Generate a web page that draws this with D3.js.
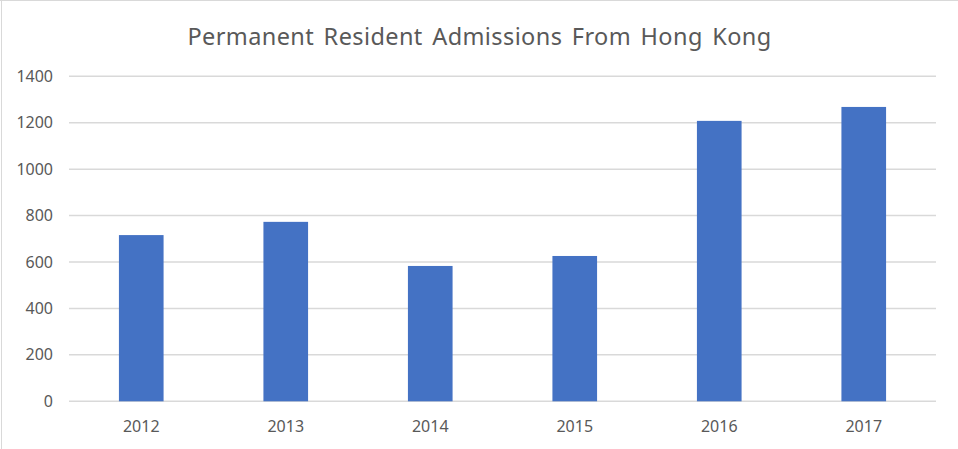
<!DOCTYPE html>
<html>
<head>
<meta charset="utf-8">
<script src="https://cdn.jsdelivr.net/npm/d3@7"></script>
<style>
  body { margin: 0; background: #fff; }
  svg { display: block; font-family: "Noto Sans", "Open Sans", sans-serif; }
</style>
</head>
<body>
<div id="chart"></div>
<script>
const years = ["2012", "2013", "2014", "2015", "2016", "2017"];
const admissions = [716, 773, 583, 626, 1208, 1268];
const yTicks = [0, 200, 400, 600, 800, 1000, 1200, 1400];

const width = 958;
const height = 449;
const margin = { top: 76.3, right: 22, bottom: 47.7, left: 69 };

const svg = d3.select("#chart")
    .append("svg")
    .attr("width", width)
    .attr("height", height);

// chart frame
svg.append("line")
    .attr("x1", 0).attr("x2", width).attr("y1", 0.5).attr("y2", 0.5)
    .style("stroke", "#d9d9d9");
svg.append("line")
    .attr("x1", 1.5).attr("x2", 1.5).attr("y1", 0).attr("y2", height)
    .style("stroke", "#d9d9d9");

const x = d3.scaleBand()
    .domain(years)
    .range([margin.left, width - margin.right])
    .padding(0);

const y = d3.scaleLinear()
    .domain([0, 1400])
    .range([height - margin.bottom, margin.top]);

const barW = x.bandwidth() * 0.309;

// gridlines
svg.append("g")
    .selectAll("line")
    .data(yTicks)
    .enter()
    .append("line")
    .attr("x1", margin.left)
    .attr("x2", width - margin.right)
    .attr("y1", d => y(d))
    .attr("y2", d => y(d))
    .style("stroke", "#d9d9d9")
    .style("stroke-width", 1.5);

// bars
svg.append("g")
    .selectAll("rect")
    .data(admissions)
    .enter()
    .append("rect")
    .attr("x", (d, i) => x(years[i]) + (x.bandwidth() - barW) / 2)
    .attr("y", d => y(d))
    .attr("width", barW)
    .attr("height", d => y(0) - y(d))
    .style("fill", "#4472c4");

// y tick labels
svg.append("g")
    .selectAll("text")
    .data(yTicks)
    .enter()
    .append("text")
    .attr("x", 53)
    .attr("y", d => y(d))
    .attr("dy", "0.35em")
    .attr("text-anchor", "end")
    .style("font-size", "16px")
    .style("fill", "#595959")
    .text(d => d);

// x tick labels
svg.append("g")
    .selectAll("text")
    .data(years)
    .enter()
    .append("text")
    .attr("x", d => x(d) + x.bandwidth() / 2)
    .attr("y", 431.5)
    .attr("text-anchor", "middle")
    .style("font-size", "16px")
    .style("fill", "#595959")
    .text(d => d);

// title
svg.append("text")
    .attr("x", 479.5)
    .attr("y", 44.5)
    .attr("text-anchor", "middle")
    .style("font-size", "23.5px")
    .style("fill", "#595959")
    .style("word-spacing", "3px")
    .style("letter-spacing", "0.4px")
    .text("Permanent Resident Admissions From Hong Kong");
</script>
</body>
</html>
